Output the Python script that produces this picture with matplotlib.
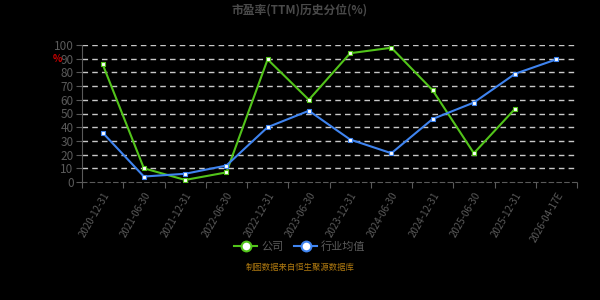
import matplotlib
matplotlib.use("Agg")
import matplotlib.pyplot as plt
import numpy as np

plt.rcParams['font.family'] = ['Noto Sans CJK SC', 'DejaVu Sans']

# Data
dates = ["2020-12-31", "2021-06-30", "2021-12-31", "2022-06-30", "2022-12-31",
         "2023-06-30", "2023-12-31", "2024-06-30", "2024-12-31", "2025-06-30",
         "2025-12-31", "2026-04-17E"]
company = [86, 10, 1.5, 7, 89.5, 60, 94, 98, 67, 21, 53.5, np.nan]
industry = [36, 4, 6, 12, 40, 52, 31, 21, 46, 58, 79, 89.5]
y_ticks = [0, 10, 20, 30, 40, 50, 60, 70, 80, 90, 100]

green = "#52c41a"
blue = "#3f84f0"
gray = "#5a5a5a"

def main():
    fig = plt.figure(figsize=(6, 3), dpi=100, facecolor="black")
    ax = fig.add_axes([82 / 600, 1 - 182 / 300, 495 / 600, 137 / 300])
    ax.set_facecolor("black")

    x = np.arange(len(dates))
    ax.plot(x, company, color=green, lw=1.5, marker="s", ms=2.6,
            mfc="white", mec=green, mew=0.8, label="公司", zorder=3)
    ax.plot(x, industry, color=blue, lw=1.5, marker="s", ms=2.6,
            mfc="white", mec=blue, mew=0.8, label="行业均值", zorder=3)

    ax.set_xlim(-0.5, len(dates) - 0.5)
    ax.set_ylim(0, 100)
    ax.set_yticks(y_ticks)
    ax.set_yticklabels([str(v) for v in y_ticks], color=gray, fontsize=8.5)
    ax.set_xticks(x)
    ax.set_xticklabels(dates, rotation=60, ha="right", va="top",
                       rotation_mode="anchor", color=gray, fontsize=7)
    ax.set_xticks(np.arange(-0.5, len(dates)), minor=True)
    ax.tick_params(axis="x", which="major", length=0, pad=6)
    ax.tick_params(axis="x", which="minor", length=4, color=gray, width=0.8)
    ax.tick_params(axis="y", length=4, color=gray, width=0.8, pad=2)

    for v in y_ticks[1:]:
        ax.axhline(v, color="#c8c8c8", lw=1, ls=(0, (4, 3)), zorder=1)

    for s in ["top", "right"]:
        ax.spines[s].set_visible(False)
    ax.spines["left"].set_color(gray)
    ax.spines["bottom"].set_color(gray)
    ax.spines["bottom"].set_linestyle((0, (4, 3)))

    fig.text(0.5, 1 - 10 / 300, "市盈率(TTM)历史分位(%)", ha="center", va="center",
             color="#4a4a4a", fontsize=8.5, fontweight="bold")
    fig.text(57 / 600, 1 - 59 / 300, "%", ha="center", va="center",
             color="#cc0000", fontsize=7, fontweight="bold")

    leg = fig.legend(loc="center", bbox_to_anchor=(0.5, 1 - 247 / 300), ncol=2,
                     frameon=False, fontsize=8, labelcolor=gray,
                     handlelength=2.0, columnspacing=1.0, handletextpad=0.4)
    for h in leg.legend_handles:
        h.set_marker("o")
        h.set_markersize(7)
        h.set_markerfacecolor("white")
        h.set_markeredgewidth(1.5)

    fig.text(0.5, 1 - 267 / 300, "制图数据来自恒生聚源数据库", ha="center",
             va="center", color="#b07a10", fontsize=6)

    fig.savefig("out.png", dpi=100, facecolor="black")

if __name__ == "__main__":
    main()
